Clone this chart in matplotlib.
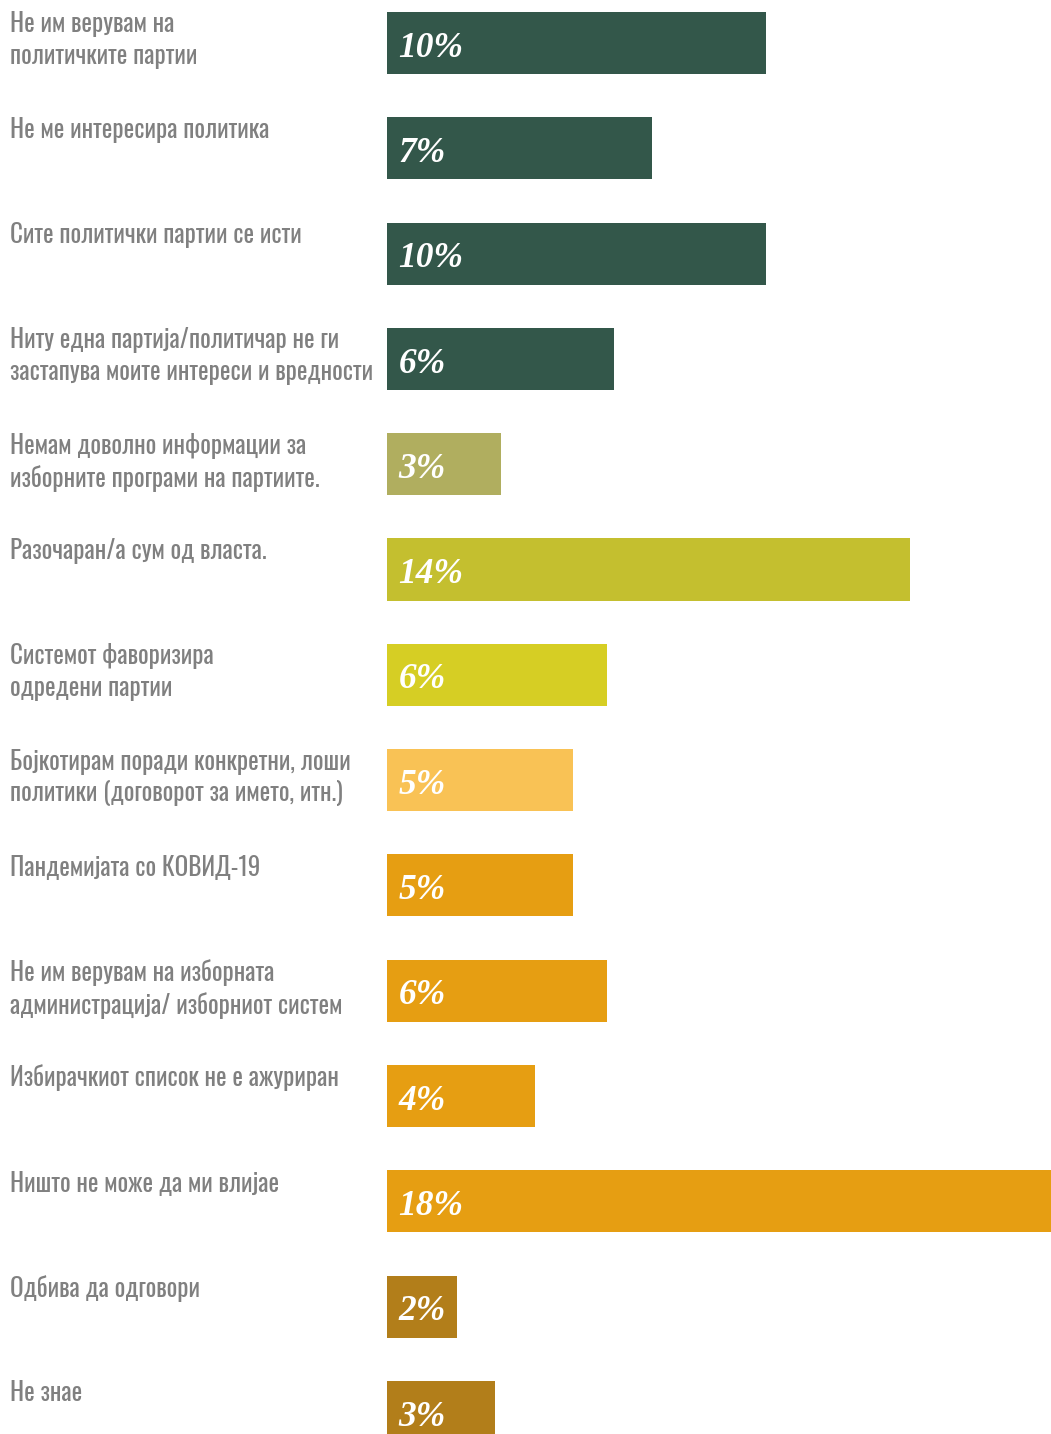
import matplotlib
matplotlib.use('Agg')
import matplotlib.pyplot as plt
import matplotlib.transforms as mtransforms
from matplotlib import font_manager

# answers, top to bottom
labels = [
    'Не им верувам на\nполитичките партии',
    'Не ме интересира политика',
    'Сите политички партии се исти',
    'Ниту една партија/политичар не ги\nзастапува моите интереси и вредности',
    'Немам доволно информации за\nизборните програми на партиите.',
    'Разочаран/а сум од власта.',
    'Системот фаворизира\nодредени партии',
    'Бојкотирам поради конкретни, лоши\nполитики (договорот за името, итн.)',
    'Пандемијата со КОВИД-19',
    'Не им верувам на изборната\nадминистрација/ изборниот систем',
    'Избирачкиот список не е ажуриран',
    'Ништо не може да ми влијае',
    'Одбива да одговори',
    'Не знае',
]
values = [10.0, 7.0, 10.0, 6.0, 3.0, 13.8, 5.8, 4.9, 4.9, 5.8, 3.9, 18.0, 1.85, 2.85]
shown = ['10%', '7%', '10%', '6%', '3%', '14%', '6%', '5%', '5%', '6%', '4%', '18%', '2%', '3%']
colors = ['#33574A', '#33574A', '#33574A', '#33574A', '#B0AE5F', '#C4BF2F', '#D6CE24',
          '#F9C255', '#E69E12', '#E69E12', '#E69E12', '#E69E12', '#B27E1A', '#B27E1A']

have = {f.name for f in font_manager.fontManager.ttflist}


def pick(cands, default):
    for c in cands:
        if c in have:
            return c
    return default


label_font = pick(['Oswald', 'Roboto Condensed', 'Fira Sans Condensed'], 'DejaVu Sans')
value_font = pick(['Liberation Serif', 'Tinos'], 'DejaVu Serif')

fig = plt.figure(figsize=(10.51, 14.34), dpi=100)
ax = fig.add_axes([387 / 1051, 0, 1 - 387 / 1051, 1])

ypos = list(range(len(labels)))
ax.barh(ypos, values, height=0.59, color=colors, left=0)
ax.set_xlim(0, 664 / 37.9)
ax.set_ylim(1391 / 105.3, -43 / 105.3)
ax.axis('off')

trans = mtransforms.blended_transform_factory(fig.transFigure, ax.transData)
for i, (lab, txt) in enumerate(zip(labels, shown)):
    ax.text(10 / 1051, i - 0.30, lab, transform=trans, ha='left', va='top',
            fontsize=18, color='#808080', linespacing=1.28, fontweight='light',
            family=[label_font, 'DejaVu Sans'], fontstretch='condensed')
    ax.text(0.3, i + 0.13, txt, ha='left', va='baseline', fontsize=25.5,
            color='white', fontweight='bold', fontstyle='italic',
            family=[value_font, 'DejaVu Serif'])

fig.savefig('out.png', dpi=100)
